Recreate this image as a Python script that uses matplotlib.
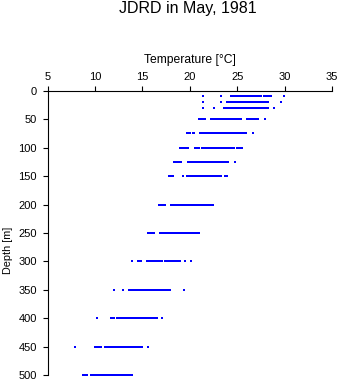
import matplotlib
matplotlib.use("Agg")
import matplotlib.pyplot as plt

plt.rcParams['font.family'] = ['Liberation Sans', 'DejaVu Sans']

# Standard sampling depths [m]
depths = [0, 10, 20, 30, 50, 75, 100, 125, 150, 200, 250, 300, 350, 400, 450, 500]

# Observed temperatures [°C] at each depth
temps = {
    0: [21.4, 23.3, 24.3, 24.5, 24.8, 25.0, 25.2, 25.4, 25.6, 25.8, 26.0, 26.2, 26.4,
        26.6, 26.8, 27.0, 27.2, 27.4, 27.8, 28.0, 28.2, 28.4, 28.6, 30.0],
    10: [21.4, 23.3, 24.3, 24.5, 24.7, 24.9, 25.1, 25.3, 25.5, 25.7, 25.9, 26.1, 26.3,
         26.5, 26.7, 26.9, 27.1, 27.3, 27.5, 27.8, 28.0, 28.2, 28.4, 28.6, 29.9],
    20: [21.4, 23.3, 23.9, 24.1, 24.3, 24.5, 24.7, 24.9, 25.1, 25.3, 25.5, 25.7, 25.9,
         26.1, 26.3, 26.5, 26.7, 26.9, 27.1, 27.3, 27.5, 27.7, 27.9, 28.1, 28.3, 29.6],
    30: [21.4, 22.6, 23.6, 23.8, 24.0, 24.2, 24.4, 24.6, 24.8, 25.0, 25.2, 25.4, 25.6,
         25.8, 26.0, 26.2, 26.4, 26.6, 26.8, 27.0, 27.2, 27.4, 27.6, 27.8, 28.0, 28.2,
         28.85],
    50: [21.0, 21.2, 21.4, 21.6, 22.2, 22.35, 22.6, 22.8, 23.0, 23.2, 23.4, 23.6, 23.8,
         24.0, 24.2, 24.4, 24.6, 24.8, 25.0, 25.2, 25.4, 26.0, 26.2, 26.4, 26.6, 26.8,
         27.0, 27.2, 27.95],
    75: [19.7, 19.9, 20.05, 20.3, 20.45, 21.1, 21.3, 21.5, 21.7, 21.9, 22.1, 22.3, 22.5,
         22.7, 22.9, 23.1, 23.3, 23.5, 23.7, 23.9, 24.1, 24.3, 24.5, 24.7, 24.9, 25.05,
         25.35, 25.55, 25.75, 25.9, 26.65],
    100: [19.0, 19.2, 19.4, 19.6, 19.8, 20.6, 20.8, 21.0, 21.3, 21.5, 21.7, 21.9, 22.1,
          22.3, 22.5, 22.7, 22.9, 23.1, 23.3, 23.5, 23.7, 23.9, 24.1, 24.3, 24.5, 24.7,
          24.95, 25.15, 25.35, 25.55],
    125: [18.3, 18.5, 18.7, 18.9, 19.1, 19.8, 20.0, 20.2, 20.45, 20.65, 20.85, 21.05,
          21.25, 21.45, 21.65, 21.85, 22.05, 22.25, 22.45, 22.65, 22.85, 23.05, 23.25,
          23.45, 23.65, 23.85, 24.0, 24.75],
    150: [17.8, 18.0, 18.2, 19.3, 19.75, 19.95, 20.15, 20.35, 20.55, 20.75, 20.95, 21.15,
          21.35, 21.55, 21.75, 21.95, 22.15, 22.35, 22.55, 22.75, 22.95, 23.15, 23.3,
          23.7, 23.9],
    200: [16.8, 17.0, 17.2, 17.35, 18.0, 18.2, 18.4, 18.65, 18.85, 19.05, 19.25, 19.45,
          19.65, 19.85, 20.05, 20.25, 20.45, 20.65, 20.85, 21.05, 21.25, 21.45, 21.65,
          21.85, 22.05, 22.25, 22.4],
    250: [15.6, 15.8, 16.0, 16.2, 16.85, 17.05, 17.25, 17.45, 17.65, 17.85, 18.05, 18.25,
          18.45, 18.65, 18.85, 19.05, 19.25, 19.4, 19.6, 19.8, 20.0, 20.2, 20.4, 20.6,
          20.8, 20.95],
    300: [13.95, 14.5, 14.7, 14.9, 15.5, 15.7, 15.9, 16.1, 16.3, 16.5, 16.7, 16.9, 17.05,
          17.35, 17.55, 17.75, 17.95, 18.15, 18.35, 18.55, 18.75, 18.95, 19.45, 20.1],
    350: [12.0, 13.0, 13.55, 13.75, 13.95, 14.15, 14.35, 14.55, 14.75, 14.95, 15.15, 15.35,
          15.55, 15.75, 15.95, 16.15, 16.35, 16.55, 16.75, 16.95, 17.15, 17.35, 17.55,
          17.75, 17.95, 19.4],
    400: [10.2, 11.7, 11.9, 12.05, 12.35, 12.55, 12.75, 12.95, 13.15, 13.35, 13.55, 13.75,
          13.95, 14.15, 14.35, 14.55, 14.75, 14.95, 15.15, 15.35, 15.55, 15.75, 15.95,
          16.15, 16.35, 16.5, 17.1],
    450: [7.9, 10.0, 10.2, 10.4, 10.6, 11.05, 11.25, 11.45, 11.65, 11.85, 12.05, 12.25,
          12.45, 12.65, 12.85, 13.05, 13.25, 13.45, 13.65, 13.85, 14.05, 14.25, 14.45,
          14.65, 14.85, 14.95, 15.6],
    500: [8.7, 8.9, 9.1, 9.2, 9.6, 9.8, 10.0, 10.2, 10.4, 10.6, 10.8, 11.0, 11.2, 11.4,
          11.6, 11.8, 12.0, 12.2, 12.4, 12.6, 12.8, 13.0, 13.2, 13.4, 13.6, 13.85, 13.95],
}

x_ticks = [5, 10, 15, 20, 25, 30, 35]
y_ticks = [0, 50, 100, 150, 200, 250, 300, 350, 400, 450, 500]

fig = plt.figure(figsize=(3.41, 3.84), dpi=100)
ax = fig.add_axes([0.1393, 0.0227, 0.8343, 0.7411])

for d in depths:
    t = temps[d]
    ax.plot(t, [d] * len(t), linestyle='none', marker='s', markersize=2.0,
            markeredgewidth=0, color='#0000ff')

ax.set_xlim(5, 35)
ax.set_ylim(500, 0)
ax.set_xticks(x_ticks)
ax.set_yticks(y_ticks)
ax.xaxis.tick_top()
ax.xaxis.set_label_position('top')

for side in ('right', 'bottom'):
    ax.spines[side].set_visible(False)
for side in ('top', 'left'):
    ax.spines[side].set_linewidth(0.8)
    ax.spines[side].set_color('black')

ax.tick_params(axis='both', direction='out', length=3.5, width=0.8,
               labelsize=8, colors='black')
ax.tick_params(axis='x', pad=3)
ax.tick_params(axis='y', pad=4)

ax.set_xlabel('Temperature [°C]', fontsize=8.7)
ax.xaxis.set_label_coords(0.5, 1.108)
ax.xaxis.label.set_va('center')

ax.set_ylabel('Depth [m]', fontsize=7.8)
ax.yaxis.set_label_coords(-0.14, 0.44)
ax.yaxis.label.set_va('center')

fig.text(0.551, 0.977, 'JDRD in May, 1981', ha='center', va='center', fontsize=11.5)

fig.savefig('out.png', dpi=100)
